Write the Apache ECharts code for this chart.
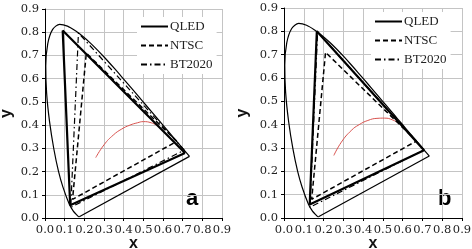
<!DOCTYPE html>
<html>
<head>
<meta charset="utf-8">
<script src="https://cdn.jsdelivr.net/npm/echarts@6/dist/echarts.min.js"></script>
<style>
html,body{margin:0;padding:0;background:#fff;}
#main{width:472px;height:249px;}
</style>
</head>
<body>
<div id="main"></div>
<script>
// CIE 1931 spectral locus
var locus = [[0.1741,0.0050],[0.1689,0.0069],[0.1566,0.0177],[0.1440,0.0297],[0.1241,0.0578],[0.0913,0.1327],[0.0687,0.2007],[0.0454,0.2950],[0.0235,0.4127],[0.0082,0.5384],[0.0039,0.6548],[0.0139,0.7502],[0.0389,0.8120],[0.0743,0.8338],[0.1142,0.8262],[0.1547,0.8059],[0.1929,0.7816],[0.2296,0.7543],[0.2658,0.7243],[0.3016,0.6923],[0.3373,0.6589],[0.3731,0.6245],[0.4087,0.5896],[0.4441,0.5547],[0.4788,0.5202],[0.5125,0.4866],[0.5448,0.4544],[0.5752,0.4242],[0.6029,0.3965],[0.6270,0.3725],[0.6482,0.3514],[0.6658,0.3340],[0.6801,0.3197],[0.6915,0.3083],[0.7006,0.2993],[0.7079,0.2920],[0.7140,0.2859],[0.7347,0.2653]];
var purpleLine = [[0.7347,0.2653],[0.1741,0.0050]];

// red curve
var planckAX = [0.258,0.30,0.347,0.39,0.432,0.47,0.50,0.54,0.576];
var planckAY = [0.26,0.315,0.357,0.383,0.40,0.41,0.415,0.41,0.396];
var planckBX = [0.252,0.29,0.34,0.38,0.424,0.47,0.508,0.55,0.593];
var planckBY = [0.268,0.325,0.375,0.40,0.418,0.427,0.428,0.42,0.40];

// triangles R, G, B, R
var qledA = [[0.712,0.28],[0.09,0.807],[0.128,0.055],[0.712,0.28]];
var qledB = [[0.708,0.29],[0.166,0.80],[0.13,0.058],[0.708,0.29]];
var ntsc = [[0.67,0.33],[0.21,0.71],[0.14,0.08],[0.67,0.33]];
var bt2020 = [[0.708,0.292],[0.17,0.797],[0.131,0.046],[0.708,0.292]];

var ticks = ['0.0','0.1','0.2','0.3','0.4','0.5','0.6','0.7','0.8','0.9'];

function zip(xs, ys){
	var out = [];
	for (var i = 0; i < xs.length; i++) out.push([xs[i], ys[i]]);
	return out;
}

var labelFont = {fontFamily:'DejaVu Serif', fontSize:11.5, color:'#222'};

function makeAxis(idx, name, gap){
	return {
		gridIndex: idx, type:'value', min:0, max:0.9, interval:0.1,
		name: name, nameLocation:'middle', nameGap: gap, nameMoveOverlap:false,
		nameTextStyle:{fontFamily:'Arial', fontWeight:'bold', fontSize:16, color:'#111'},
		axisLine:{show:true, lineStyle:{color:'#000', width:1}},
		axisTick:{show:true, length:3, lineStyle:{color:'#000'}},
		axisLabel: Object.assign({margin:6, hideOverlap:false, formatter:function(v){ return ticks[Math.round(v*10)]; }}, labelFont),
		splitLine:{show:true, lineStyle:{color:'#c4c4c4', width:1}}
	};
}

function seriesFor(idx, qled, px, py){
	var base = {type:'line', xAxisIndex:idx, yAxisIndex:idx, symbol:'none', animation:false, z:2};
	return [
		Object.assign({}, base, {name:'locus', data:locus, smooth:0.3, lineStyle:{color:'#000', width:1.2}}),
		Object.assign({}, base, {name:'purple', data:purpleLine, lineStyle:{color:'#000', width:1.2}}),
		Object.assign({}, base, {name:'planck', data:zip(px, py), smooth:true, lineStyle:{color:'#d9534f', width:1}}),
		Object.assign({}, base, {name:'NTSC', data:ntsc, color:'#000', lineStyle:{color:'#000', width:1.5, type:[5,3]}}),
		Object.assign({}, base, {name:'BT2020', data:bt2020, color:'#000', lineStyle:{color:'#000', width:1.2, type:[6,3,1.5,3]}}),
		Object.assign({}, base, {name:'QLED', data:qled, color:'#000', z:3, lineStyle:{color:'#000', width:2.2}})
	];
}

function makeLegend(left, top){
	return {
		data:['QLED','NTSC','BT2020'], orient:'vertical', left:left, top:top,
		itemWidth:27, itemHeight:14, itemGap:6, padding:[3,4,3,3],
		backgroundColor:'#fff', selectedMode:false,
		itemStyle:{opacity:0},
		textStyle:{fontFamily:'Liberation Serif', fontSize:13, color:'#222', padding:[0,0,0,-3]}
	};
}

var chart = echarts.init(document.getElementById('main'));
chart.setOption({
	backgroundColor:'#fff',
	grid:[
		{left:45, top:9, width:177, height:209, outerBoundsMode:'none', containLabel:false},
		{left:284, top:8, width:178, height:210, outerBoundsMode:'none', containLabel:false}
	],
	xAxis:[makeAxis(0,'x',18), makeAxis(1,'x',18)],
	yAxis:[makeAxis(0,'y',30), makeAxis(1,'y',33)],
	legend:[makeLegend(137,17), makeLegend(371,12)],
	graphic:[
		{type:'text', left:186, top:188, style:{text:'a', font:'bold 22px Arial', fill:'#000'}},
		{type:'text', left:438, top:188, style:{text:'b', font:'bold 22px Arial', fill:'#000'}}
	],
	series: seriesFor(0, qledA, planckAX, planckAY).concat(seriesFor(1, qledB, planckBX, planckBY))
});
</script>
</body>
</html>
